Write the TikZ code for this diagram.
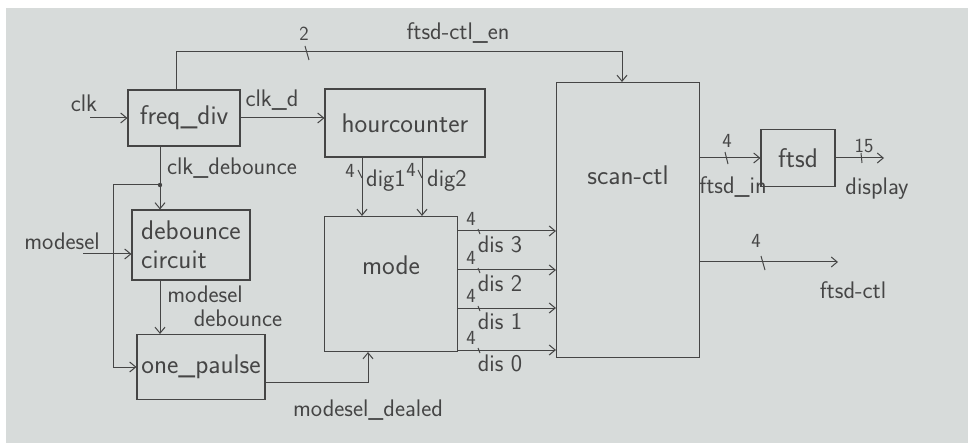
\documentclass[tikz,border=0pt]{standalone}
\usetikzlibrary{arrows.meta,positioning,calc}
\definecolor{paper}{HTML}{D7DBDA}
\definecolor{pencil}{HTML}{454545}

\begin{document}
\begin{tikzpicture}[
  x=1pt, y=-1pt,
  font=\sffamily\fontsize{27}{29}\selectfont,
  box/.style={draw=pencil, line width=1.1pt, text=pencil, inner sep=0pt},
  arr/.style={-{Straight Barb[length=6pt,width=10pt]}, draw=pencil, line width=1pt},
  wire/.style={draw=pencil, line width=1pt},
  lab/.style={text=pencil, font=\sffamily\fontsize{24}{26}\selectfont, inner sep=1pt},
  num/.style={text=pencil, font=\sffamily\fontsize{20}{22}\selectfont, inner sep=1pt}
]
  \useasboundingbox (0,0) rectangle (968,443);
  \fill[white] (0,0) rectangle (968,443);
  \fill[paper] (6,8) rectangle (968,443);

  \node[box, minimum width=112pt, minimum height=56pt] (fd) at (184,118) {freq\_div};
  \node[box, minimum width=160pt, minimum height=68pt] (hc) at (405,123) {hourcounter};
  \node[box, minimum width=118pt, minimum height=70pt, align=left] (db) at (191,245) {debounce\\circuit};
  \node[box, minimum width=128pt, minimum height=65pt] (op) at (201,367) {one\_paulse};
  \node[box, minimum width=133pt, minimum height=135pt,
        label={[text=pencil, anchor=north, yshift=-36pt]north:mode}] (mode) at (391,284) {};
  \node[box, minimum width=143pt, minimum height=275pt,
        label={[text=pencil, anchor=north, yshift=-80pt]north:scan-ctl}] (scan) at (628,220) {};
  \node[box, minimum width=74pt, minimum height=57pt] (ftsd) at (798,158) {ftsd};

  \coordinate (clkin) at (90,118);
  \coordinate (en) at ($(scan.north)+(-6,-30)$);
  \coordinate (j) at (160,185);
  \coordinate (jl) at (113,185);
  \coordinate (msin) at (83,254);
  \coordinate (md) at (368,382);
  \coordinate (d1) at (362,0);
  \coordinate (d2) at (422,0);
  \coordinate (dsp) at (884,0);
  \coordinate (fc) at (838,262);

  \node[lab, anchor=south] (clkl) at (84,113) {clk};
  \draw[arr] (clkin) -- (fd.west);
  \draw[arr] ($(fd.north)+(-8,0)$) |- (en) -- ($(scan.north)+(-6,0)$);
  \draw[wire] (305,46) -- (309,60);
  \node[num] (twol) at (304,34) {2};
  \node[lab] (enl) at (458,33) {ftsd-ctl\_en};

  \draw[arr] (fd.east) -- (fd.east -| hc.west);
  \node[lab] (clkdl) at (272,100) {clk\_d};

  \draw[wire] (fd.south -| j) -- (j);
  \fill[pencil] (j) circle (2.2pt);
  \draw[arr] (j) -- (db.north -| j);
  \draw[arr] (j) -- (jl) |- (op.west);
  \node[lab] (clkdbl) at (232,168) {clk\_debounce};

  \node[lab] (msl) at (62,241) {modesel};
  \draw[arr] (msin) -- (msin -| db.west);
  \draw[arr] (db.south -| j) -- (op.north -| j);
  \node[lab] (msdl1) at (205,294) {modesel};
  \node[lab] (msdl2) at (238,318) {debounce};

  \draw[arr] (op.east |- md) -- (md) -- (md |- mode.south);
  \node[lab] (mdl) at (368,410) {modesel\_dealed};

  \draw[arr] (hc.south -| d1) -- (mode.north -| d1);
  \draw[arr] (hc.south -| d2) -- (mode.north -| d2);
  \draw[wire] (358,170) -- (362,178);
  \draw[wire] (418,170) -- (422,178);
  \node[num] (d1n) at (350,171) {4};
  \node[num] (d2n) at (411,170) {4};
  \node[lab, anchor=west] (d1l) at (365,181) {dig1};
  \node[lab, anchor=west] (d2l) at (426,181) {dig2};

  \foreach \yy/\nm [count=\i] in {231/3,270/2,308/1,350/0}{
    \path (0,\yy) coordinate (r\i);
    \draw[arr] (mode.east |- r\i) -- (scan.west |- r\i);
    \draw[wire] (478,\yy-2) -- (480,\yy+3);
    \node[num] (n\i) at (471,\yy-12) {4};
    \node[lab] (dis\i) at (500,\yy+13) {dis \nm};
  }

  \draw[arr] (scan.east |- ftsd.west) -- (ftsd.west);
  \draw[wire] (725,152) -- (728,164);
  \node[num] (fin) at (727,141) {4};
  \node[lab] (finl) at (733,187) {ftsd\_in};

  \draw[arr] (ftsd.east) -- (ftsd.east -| dsp);
  \draw[wire] (861,153) -- (862,163);
  \node[num] (dspn) at (864,146) {15};
  \node[lab] (dspl) at (877,189) {display};

  \draw[arr] (scan.east |- fc) -- (fc);
  \draw[wire] (761,256) -- (765,270);
  \node[num] (fcn) at (756,241) {4};
  \node[lab] (fcl) at (853,290) {ftsd-ctl};
\end{tikzpicture}
\end{document}
